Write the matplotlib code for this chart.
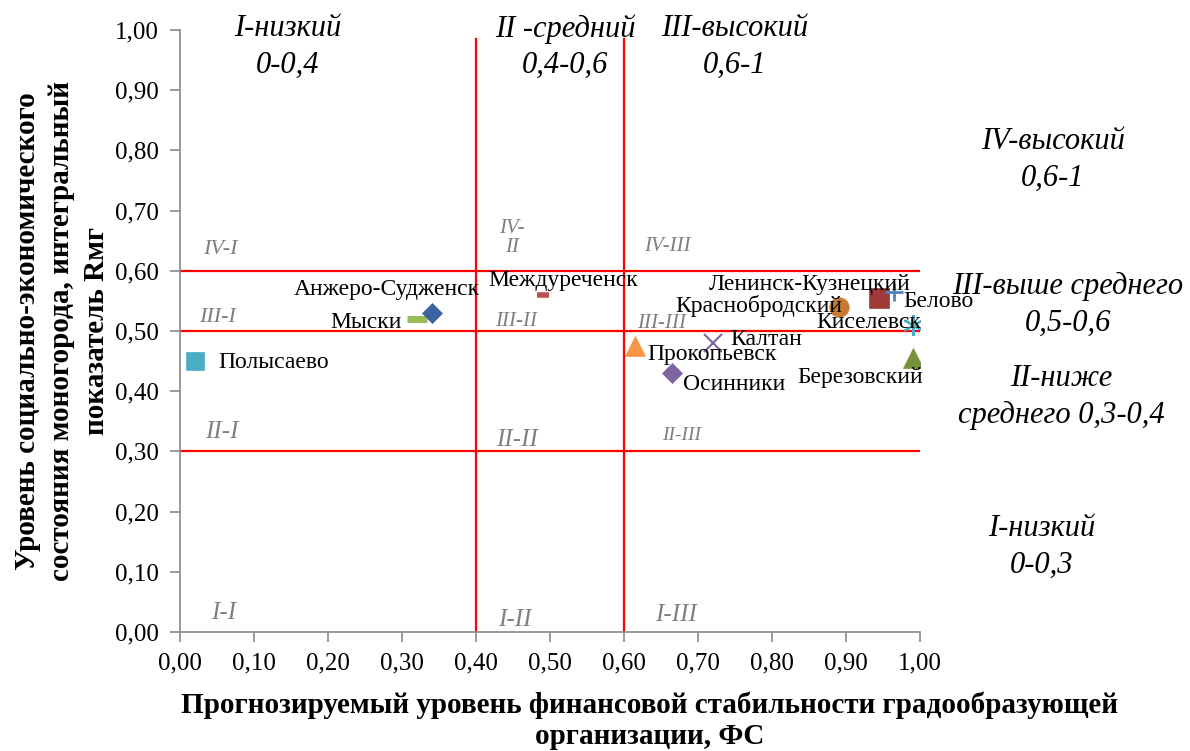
import matplotlib
matplotlib.use('Agg')
import matplotlib.pyplot as plt
from matplotlib.ticker import FuncFormatter, MultipleLocator

plt.rcParams['font.family'] = ['Liberation Serif', 'DejaVu Serif']

# =============================================================================
# Data
# =============================================================================
towns = ['Полысаево', 'Мыски', 'Анжеро-Судженск', 'Междуреченск', 'Прокопьевск',
         'Осинники', 'Калтан', 'Краснобродский', 'Ленинск-Кузнецкий', 'Белово',
         'Киселевск', 'Березовский']
fs = [0.02, 0.32, 0.34, 0.49, 0.615, 0.665, 0.72, 0.89, 0.945, 0.965, 0.99, 0.99]
rmg = [0.45, 0.52, 0.53, 0.56, 0.475, 0.43, 0.48, 0.54, 0.555, 0.565, 0.51, 0.455]

# границы зон
x_bounds = [0.4, 0.6]
y_bounds = [0.3, 0.5, 0.6]

# стиль маркеров: (marker, color, size, edge width)
styles = [('s', '#4BACC6', 13, 0),
          ('_', '#9BBB59', 15, 5),
          ('D', '#3B64A0', 10, 0),
          ('_', '#C0504D', 8, 4),
          ('^', '#F79646', 14, 0),
          ('D', '#8064A2', 10, 0),
          ('x', '#8064A2', 13, 1.5),
          ('o', '#C77B30', 14, 0),
          ('s', '#9E3B38', 14, 0),
          ('+', '#4F81BD', 13, 2),
          ((6, 2, 0), '#4BACC6', 15, 1.5),
          ('^', '#76923C', 14, 0)]

# подписи: (dx, dy в пикселях, ha)
lab_pos = [(24, -1, 'left'), (-15, -4, 'right'), (48, 23, 'right'),
           (-54, 14, 'left'), (12, -8, 'left'), (11, -11, 'left'),
           (18, 4, 'left'), (4, 1, 'right'), (31, 13, 'right'),
           (9, -10, 'left'), (9, 2, 'right'), (10, -19, 'right')]

zones = [('IV-I', 0.054, 0.635, 16), ('III-I', 0.051, 0.522, 16),
         ('II-I', 0.057, 0.332, 18), ('I-I', 0.059, 0.032, 18),
         ('IV-\nII', 0.449, 0.655, 15), ('III-II', 0.454, 0.515, 15),
         ('II-II', 0.455, 0.319, 18), ('I-II', 0.453, 0.02, 18),
         ('IV-III', 0.658, 0.64, 15), ('III-III', 0.651, 0.512, 15),
         ('II-III', 0.678, 0.327, 14), ('I-III', 0.670, 0.028, 18)]

# уровни (в пикселях рисунка)
levels = [('I-низкий\n0-0,4', 288, 47), ('II -средний\n0,4-0,6', 565, 47),
          ('III-высокий\n0,6-1', 735, 47), ('IV-высокий\n0,6-1', 1053, 160),
          ('III-выше среднего\n0,5-0,6', 1068, 305),
          ('II-ниже\nсреднего 0,3-0,4', 1061, 397), ('I-низкий\n0-0,3', 1042, 547)]

# =============================================================================
# Plot
# =============================================================================
W, H = 1190, 751
fig = plt.figure(figsize=(W / 100, H / 100), dpi=100)
ax = fig.add_axes([180 / W, 1 - 632 / H, 740 / W, 602 / H])

for xb in x_bounds:
    ax.plot([xb, xb], [0, 0.985], color='red', lw=1.6, zorder=1)
for yb in y_bounds:
    ax.plot([0, 1], [yb, yb], color='red', lw=1.6, zorder=1)

for name, zx, zy, zs in zones:
    ax.text(zx, zy, name, color='#7F7F7F', style='italic', fontsize=zs,
            ha='center', va='center', linespacing=1.0, zorder=2)

for i in range(len(towns)):
    m, c, s, ew = styles[i]
    ax.plot(fs[i], rmg[i], linestyle='none', marker=m, color=c, markersize=s,
            markeredgewidth=ew if ew else 0.5, markeredgecolor=c, zorder=3)
    dx, dy, ha = lab_pos[i]
    ax.annotate(towns[i], (fs[i], rmg[i]), xytext=(dx, dy),
                textcoords='offset pixels', ha=ha, va='center', fontsize=17,
                zorder=4)

ax.set_xlim(0, 1)
ax.set_ylim(0, 1)
ax.xaxis.set_major_locator(MultipleLocator(0.1))
ax.yaxis.set_major_locator(MultipleLocator(0.1))
fmt = FuncFormatter(lambda v, p: ('%.2f' % v).replace('.', ','))
ax.xaxis.set_major_formatter(fmt)
ax.yaxis.set_major_formatter(fmt)
ax.tick_params(labelsize=18, color='#898989', length=7, width=1.2)
ax.tick_params(axis='x', pad=8)
ax.tick_params(axis='y', pad=8)
for sp in ['top', 'right']:
    ax.spines[sp].set_visible(False)
for sp in ['left', 'bottom']:
    ax.spines[sp].set_color('#898989')
    ax.spines[sp].set_linewidth(1.2)

for txt, px, py in levels:
    fig.text(px / W, 1 - py / H, txt, ha='center', va='center', style='italic',
             fontsize=22, linespacing=1.35)

fig.text(650 / W, 1 - 721 / H,
         'Прогнозируемый уровень финансовой стабильности градообразующей\nорганизации, ФС',
         ha='center', va='center', fontsize=21, fontweight='bold', linespacing=1.2)
fig.text(62 / W, 1 - 331 / H,
         'Уровень социально-экономического\nсостояния моногорода, интегральный\nпоказатель Rмг',
         ha='center', va='center', rotation=90, fontsize=21, fontweight='bold',
         linespacing=1.35)

fig.savefig('out.png', dpi=100)
